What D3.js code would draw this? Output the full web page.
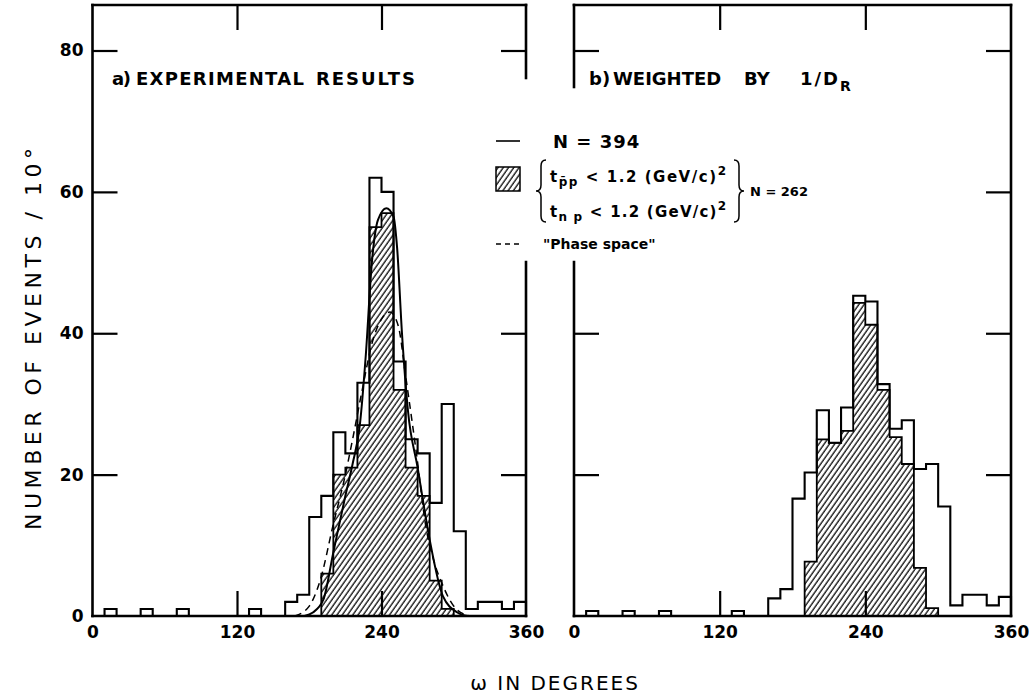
<!DOCTYPE html>
<html>
<head>
<meta charset="utf-8">
<script src="https://cdn.jsdelivr.net/npm/d3@7"></script>
<style>
  body { margin: 0; background: #fff; }
  text { font-family: "DejaVu Sans", sans-serif; fill: #000; }
</style>
</head>
<body>
<svg width="1029" height="700"></svg>
<script>
// 10 degree bins, 0..350
var binStart = d3.range(0, 360, 10);

// a) experimental results, all events (N = 394)
var allA = [0,1,0,0,1,0,0,1,0,0,0,0,0,1,0,0,2,3,14,17,26,23,33,62,60,36,25,23,16,30,12,1,2,2,1,2];
// a) events with t cuts (N = 262)
var cutA = [0,0,0,0,0,0,0,0,0,0,0,0,0,0,0,0,0,0,0,6,20,21,27,55,57,32,21,17,5,1,0,0,0,0,0,0];
// b) weighted by 1/D_R
var allB = [0,0.7,0,0,0.7,0,0,0.7,0,0,0,0,0,0.7,0,0,2.5,3.8,16.6,20.3,29.1,24.5,29.5,45.3,44.5,32.8,26.5,27.7,20.8,21.5,15.5,1.5,3,3,1.5,2.7];
var cutB = [0,0,0,0,0,0,0,0,0,0,0,0,0,0,0,0,0,0,0,7.7,25,24.5,26.2,44.3,41.2,32,25.3,21.5,6.8,1.1,0,0,0,0,0,0];

// fitted curve (solid) and "phase space" (dashed), panel a
var fitA = [[176,0],[183,0.5],[191.7,2.3],[200,9],[210,17],[216,21.5],[222,27],[227,37],[232,50],[237,56],[244,57.7],[250,56.5],[253,52],[257,40],[262,29],[270,21],[280,10.8],[291,2.8],[303,0.5],[312,0]];
var phaseA = [[168,0],[180,1.4],[189,5],[200,13],[210,20],[216,25],[224,32],[232,38.5],[240,42],[247,43],[254,41],[260,34],[265,28],[269,23],[277,12.5],[284,7.5],[290,4.7],[302,1],[314,0]];

var xTicks = [0, 120, 240, 360];
var yTicks = [0, 20, 40, 60, 80];

var svg = d3.select("svg");
var defs = svg.append("defs");
var pat = defs.append("pattern")
    .attr("id", "hatch")
    .attr("patternUnits", "userSpaceOnUse")
    .attr("width", 4.3)
    .attr("height", 10)
    .attr("patternTransform", "rotate(35)");
pat.append("line")
    .attr("x1", 1).attr("y1", 0).attr("x2", 1).attr("y2", 10)
    .attr("stroke", "#000").attr("stroke-width", 1.25);

var topY = 5;
var y = d3.scaleLinear().domain([0, 80]).range([616, 50.5]);

function steps(vals) {
    var p = [[0, 0]];
    vals.forEach(function(v, i) {
        p.push([binStart[i], v]);
        p.push([binStart[i] + 10, v]);
    });
    p.push([360, 0]);
    return p;
}

function drawPanel(x, all, cut, gapLeft, gapRight) {
    var g = svg.append("g");
    var line = d3.line().x(function(d) { return x(d[0]); }).y(function(d) { return y(d[1]); });

    g.append("path")
        .attr("d", line(steps(cut)))
        .attr("fill", "url(#hatch)")
        .attr("stroke", "#000")
        .attr("stroke-width", 1.8);

    g.append("path")
        .attr("d", line(steps(all)))
        .attr("fill", "none")
        .attr("stroke", "#000")
        .attr("stroke-width", 2.1);

    // frame
    var x0 = x(0), x1 = x(360), y0 = y(0);
    var segs = [
        [x0, topY, x1, topY],
        [x0, y0, x1, y0]
    ];
    if (gapLeft) { segs.push([x0, topY, x0, gapLeft[0]]); segs.push([x0, gapLeft[1], x0, y0]); }
    else segs.push([x0, topY, x0, y0]);
    if (gapRight) { segs.push([x1, topY, x1, gapRight[0]]); segs.push([x1, gapRight[1], x1, y0]); }
    else segs.push([x1, topY, x1, y0]);
    g.selectAll("line.frame").data(segs).enter().append("line")
        .attr("x1", function(d) { return d[0]; }).attr("y1", function(d) { return d[1]; })
        .attr("x2", function(d) { return d[2]; }).attr("y2", function(d) { return d[3]; })
        .attr("stroke", "#000").attr("stroke-width", 2.6).attr("stroke-linecap", "square");

    // inner ticks
    var tk = 25;
    g.append("g").attr("transform", "translate(0," + y0 + ")")
        .call(d3.axisTop(x).tickValues([120, 240]).tickSize(tk).tickFormat(""));
    g.append("g").attr("transform", "translate(0," + topY + ")")
        .call(d3.axisBottom(x).tickValues([120, 240]).tickSize(tk).tickFormat(""));
    g.append("g").attr("transform", "translate(" + x0 + ",0)")
        .call(d3.axisRight(y).tickValues(gapLeft ? [20, 40, 80] : [20, 40, 60, 80]).tickSize(tk).tickFormat(""));
    g.append("g").attr("transform", "translate(" + x1 + ",0)")
        .call(d3.axisLeft(y).tickValues(gapRight ? [20, 40, 80] : [20, 40, 60, 80]).tickSize(tk).tickFormat(""));

    // tick labels
    g.append("g").attr("transform", "translate(0," + y0 + ")")
        .call(d3.axisBottom(x).tickValues(xTicks).tickSize(0).tickPadding(10));

    g.selectAll(".domain").remove();
    g.selectAll(".tick line").attr("stroke", "#000").attr("stroke-width", 2.2);
    g.selectAll(".tick text").attr("font-size", 17).attr("font-family", "DejaVu Sans").attr("font-weight", "bold");
    return g;
}

var xA = d3.scaleLinear().domain([0, 360]).range([92.5, 526]);
var xB = d3.scaleLinear().domain([0, 360]).range([574, 1011]);

var gA = drawPanel(xA, allA, cutA, null, [78, 262]);
var gB = drawPanel(xB, allB, cutB, [87, 262], null);

// curves on panel a
var curve = d3.line().x(function(d) { return xA(d[0]); }).y(function(d) { return y(d[1]); }).curve(d3.curveMonotoneX);
gA.append("path").attr("d", curve(fitA)).attr("fill", "none").attr("stroke", "#000").attr("stroke-width", 2);
gA.append("path").attr("d", curve(phaseA)).attr("fill", "none").attr("stroke", "#000")
    .attr("stroke-width", 1.5).attr("stroke-dasharray", "7,5");

// y tick labels (left panel only)
var gy = svg.append("g").attr("transform", "translate(" + xA(0) + ",0)")
    .call(d3.axisLeft(y).tickValues(yTicks).tickSize(0).tickPadding(9));
gy.select(".domain").remove();
gy.selectAll(".tick text").attr("font-size", 17).attr("font-family", "DejaVu Sans").attr("font-weight", "bold");

// panel titles, word by word
function word(x0, yb, size, txt, len) {
    var t = svg.append("text").attr("x", x0).attr("y", yb)
        .attr("font-size", size).attr("font-weight", "bold")
        .text(txt);
    if (len) t.attr("textLength", len).attr("lengthAdjust", "spacing");
    return t;
}
word(112, 85, 18, "a)", 19);
word(136, 85, 18, "EXPERIMENTAL", 168);
word(316, 85, 18, "RESULTS", 99);
word(589, 85, 18, "b)");
word(613, 85, 18, "WEIGHTED");
word(744, 85, 18, "BY");
word(800, 85, 18, "1/D", 38);
word(840, 91, 14, "R");

// axis titles
svg.append("text")
    .attr("transform", "translate(41,339) rotate(-90)")
    .attr("text-anchor", "middle").attr("font-size", 22)
    .attr("textLength", 382).attr("lengthAdjust", "spacing")
    .text("NUMBER OF EVENTS / 10°");
svg.append("text")
    .attr("x", 555).attr("y", 690).attr("text-anchor", "middle")
    .attr("font-size", 20).attr("letter-spacing", 2)
    .text("ω IN DEGREES");

// legend
var lg = svg.append("g");
lg.append("line").attr("x1", 496).attr("x2", 520).attr("y1", 141).attr("y2", 141)
    .attr("stroke", "#000").attr("stroke-width", 1.6);
lg.append("text").attr("x", 553).attr("y", 148).attr("font-size", 18).attr("font-weight", "bold")
    .attr("letter-spacing", 1).text("N = 394");

lg.append("rect").attr("x", 496).attr("y", 167).attr("width", 24).attr("height", 24)
    .attr("fill", "url(#hatch)").attr("stroke", "#000").attr("stroke-width", 1.5);

function bracePath(x, y0, y1, w) {
    var m = (y0 + y1) / 2;
    return "M" + (x + w) + "," + y0 + " Q" + x + "," + y0 + " " + x + "," + (y0 + 6) +
        " L" + x + "," + (m - 6) + " Q" + x + "," + m + " " + (x - w) + "," + m +
        " Q" + x + "," + m + " " + x + "," + (m + 6) +
        " L" + x + "," + (y1 - 6) + " Q" + x + "," + y1 + " " + (x + w) + "," + y1;
}
lg.append("path").attr("d", bracePath(541, 160, 222, 5)).attr("fill", "none").attr("stroke", "#000").attr("stroke-width", 1.5);
lg.append("path").attr("d", bracePath(739, 160, 222, -5)).attr("fill", "none").attr("stroke", "#000").attr("stroke-width", 1.5);

function cutLine(yb, sub) {
    var t = lg.append("text").attr("x", 550).attr("y", yb).attr("font-size", 15).attr("font-weight", "bold")
        .attr("textLength", 176).attr("lengthAdjust", "spacing");
    t.append("tspan").text("t");
    t.append("tspan").attr("font-size", 12).attr("dy", 4).text(sub);
    t.append("tspan").attr("dy", -4).text(" < 1.2  (GeV/c)");
    t.append("tspan").attr("font-size", 12).attr("dy", -7).text("2");
}
cutLine(182, "p\u0304p");
cutLine(217, "n p");
lg.append("text").attr("x", 750).attr("y", 196).attr("font-size", 13).attr("font-weight", "bold").text("N = 262");

lg.append("line").attr("x1", 496).attr("x2", 520).attr("y1", 244).attr("y2", 244)
    .attr("stroke", "#000").attr("stroke-width", 1.5).attr("stroke-dasharray", "5,4");
lg.append("text").attr("x", 543).attr("y", 249).attr("font-size", 14).attr("font-weight", "bold").text("\"Phase space\"");
</script>
</body>
</html>
